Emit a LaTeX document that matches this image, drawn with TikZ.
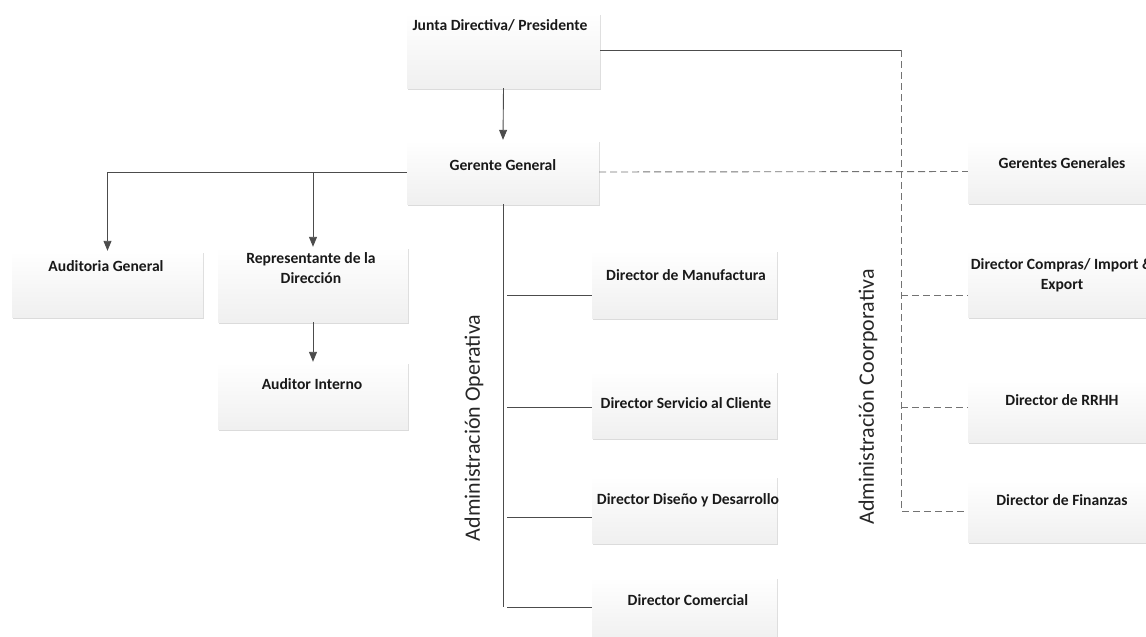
\documentclass[tikz,border=0pt]{standalone}
\usepackage{fontspec}
\setmainfont{Carlito}
\usetikzlibrary{arrows.meta,shadows}

\begin{document}
\begin{tikzpicture}[x=1pt,y=-1pt,
  caja/.style={rectangle,inner sep=0pt,top color=white,bottom color=gray!12,
    drop shadow={shadow xshift=1.2pt,shadow yshift=-1.8pt,fill=gray!70,opacity=.4}},
  txt/.style={inner sep=0pt,align=center,text=black!90,font=\fontsize{15.6}{19.5}\selectfont\bfseries},
  rotulo/.style={inner sep=0pt,rotate=90,text=black!85,font=\fontsize{22}{26}\selectfont},
  linea/.style={draw=black!70,line width=0.9pt},
  flecha/.style={linea,-{Triangle[length=10pt,width=8pt]}},
  punteada/.style={draw=black!55,line width=0.9pt,dash pattern=on 7pt off 4pt}]
\useasboundingbox (0,0) rectangle (1146,637);
\clip (0,0) rectangle (1146,637);

%Shape: Rectangle
\node[caja,minimum width=193,minimum height=75] (junta) at (503.5,50.5) {};
\node[caja,minimum width=192,minimum height=64] (gerente) at (503,172) {};
\node[caja,minimum width=191,minimum height=66] (audgen) at (107.5,284) {};
\node[caja,minimum width=190,minimum height=75] (repre) at (313,284.5) {};
\node[caja,minimum width=190,minimum height=67] (audint) at (313,395.5) {};
%Shape: Rectangle (administracion operativa)
\node[caja,minimum width=185,minimum height=68] (manuf) at (684.5,284) {};
\node[caja,minimum width=185,minimum height=67] (serv) at (684.5,404.5) {};
\node[caja,minimum width=185,minimum height=67] (dis) at (684.5,509.5) {};
\node[caja,minimum width=185,minimum height=64] (com) at (684.5,609) {};
%Shape: Rectangle (administracion coorporativa)
\node[caja,minimum width=188,minimum height=63] (gergen) at (1062,171.5) {};
\node[caja,minimum width=188,minimum height=67] (compras) at (1062,283.5) {};
\node[caja,minimum width=188,minimum height=62] (rrhh) at (1062,411) {};
\node[caja,minimum width=188,minimum height=62] (fin) at (1062,511) {};

%Straight Lines
\draw[flecha] (junta.south) -- (gerente.north);
\draw[flecha] (gerente.west) -| (audgen.north);
\draw[flecha] (repre.north |- gerente.west) -- (repre.north);
\draw[flecha] (repre.south) -- (audint.north);

%Straight Lines (tronco operativo)
\coordinate (op1) at (507,295);
\coordinate (op2) at (507,407);
\coordinate (op3) at (507,517);
\coordinate (op4) at (507,607);
\draw[linea] (gerente.south) -- (gerente.south |- op4);
\draw[linea] (op1) -- (op1 -| manuf.west);
\draw[linea] (op2) -- (op2 -| serv.west);
\draw[linea] (op3) -- (op3 -| dis.west);
\draw[linea] (op4) -- (op4 -| com.west);

%Straight Lines (corporativa)
\coordinate (esq) at (901,50);
\coordinate (co1) at (901,295);
\coordinate (co2) at (901,407);
\draw[linea] (junta.east |- esq) -- (esq);
\draw[punteada] (esq) |- (fin.west);
\draw[punteada] (co1) -- (co1 -| compras.west);
\draw[punteada] (co2) -- (co2 -| rrhh.west);
\draw[punteada] (gerente.east) -- (gergen.west);

% Text Node
\node[txt] (junta-t) at (500,25) {Junta Directiva/ Presidente};
\node[txt] (gerente-t) at (503,165) {Gerente General};
\node[txt] (audgen-t) at (106,266) {Auditoria General};
\node[txt] (repre-t) at (311,268) {Representante de la\\Dirección};
\node[txt] (audint-t) at (312,384) {Auditor Interno};
\node[txt] (manuf-t) at (686,275) {Director de Manufactura};
\node[txt] (serv-t) at (686,403) {Director Servicio al Cliente};
\node[txt] (dis-t) at (688,500) {Director Diseño y Desarrollo};
\node[txt] (com-t) at (688,600) {Director Comercial};
\node[txt] (gergen-t) at (1062,163) {Gerentes Generales};
\node[txt] (compras-t) at (1062,275) {Director Compras/ Import \&\\Export};
\node[txt] (rrhh-t) at (1062,400) {Director de RRHH};
\node[txt] (fin-t) at (1062,500) {Director de Finanzas};
% Text Node
\node[rotulo] (operativa) at (474,428) {Administración Operativa};
\node[rotulo] (coorporativa) at (868,397) {Administración Coorporativa};

\end{tikzpicture}
\end{document}
